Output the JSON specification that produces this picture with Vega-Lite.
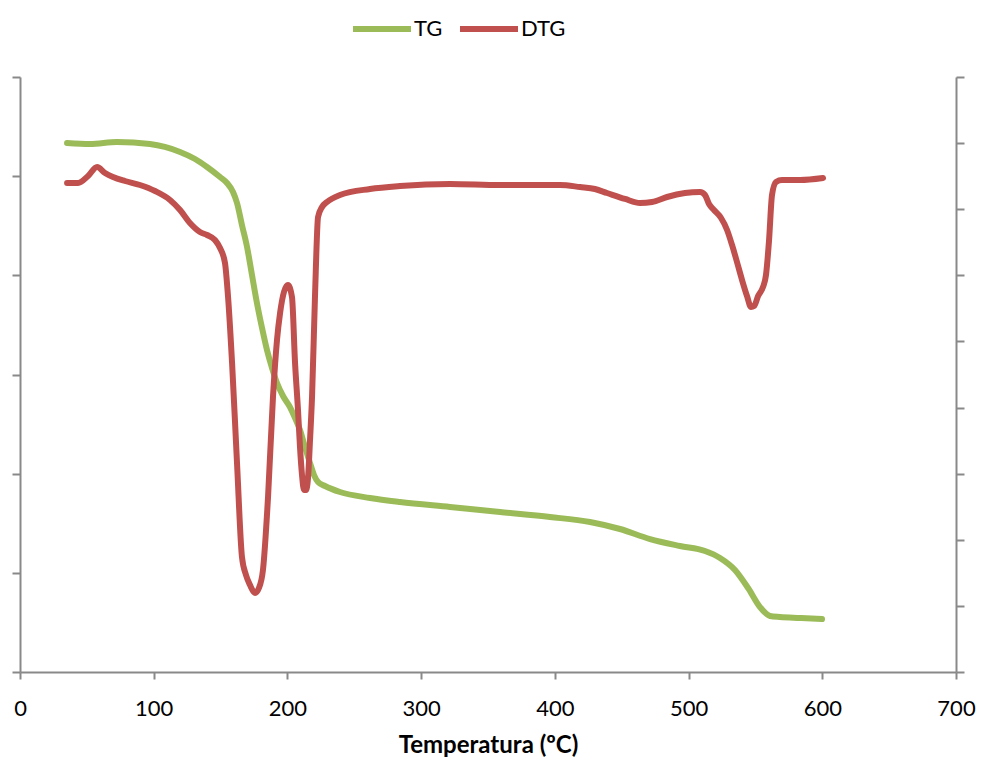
{
  "$schema": "https://vega.github.io/schema/vega-lite/v6.json",
  "width": 936,
  "height": 595,
  "autosize": {"type": "none"},
  "padding": {"left": 20, "top": 77, "right": 25, "bottom": 88},
  "background": "white",
  "config": {
    "view": {"stroke": null},
    "font": "Lato",
    "axis": {"domainColor": "#898989", "tickColor": "#898989", "domainWidth": 2, "tickWidth": 2, "grid": false, "labelFont": "Lato", "titleFont": "Lato"}
  },
  "data": {
    "values": [
      {"series": "TG", "T": 35.2, "v": 5.334},
      {"series": "TG", "T": 52.4, "v": 5.324},
      {"series": "TG", "T": 72.5, "v": 5.344},
      {"series": "TG", "T": 97.2, "v": 5.324},
      {"series": "TG", "T": 119.7, "v": 5.244},
      {"series": "TG", "T": 130.9, "v": 5.173},
      {"series": "TG", "T": 139.9, "v": 5.092},
      {"series": "TG", "T": 149.6, "v": 4.991},
      {"series": "TG", "T": 154.8, "v": 4.931},
      {"series": "TG", "T": 159.3, "v": 4.84},
      {"series": "TG", "T": 162.3, "v": 4.729},
      {"series": "TG", "T": 166.0, "v": 4.507},
      {"series": "TG", "T": 169.8, "v": 4.286},
      {"series": "TG", "T": 173.5, "v": 4.003},
      {"series": "TG", "T": 177.2, "v": 3.721},
      {"series": "TG", "T": 181.0, "v": 3.469},
      {"series": "TG", "T": 184.7, "v": 3.247},
      {"series": "TG", "T": 188.5, "v": 3.065},
      {"series": "TG", "T": 192.2, "v": 2.914},
      {"series": "TG", "T": 196.7, "v": 2.783},
      {"series": "TG", "T": 201.9, "v": 2.672},
      {"series": "TG", "T": 205.7, "v": 2.561},
      {"series": "TG", "T": 209.4, "v": 2.44},
      {"series": "TG", "T": 213.1, "v": 2.269},
      {"series": "TG", "T": 216.9, "v": 2.107},
      {"series": "TG", "T": 219.9, "v": 1.986},
      {"series": "TG", "T": 222.9, "v": 1.916},
      {"series": "TG", "T": 228.1, "v": 1.876},
      {"series": "TG", "T": 239.3, "v": 1.815},
      {"series": "TG", "T": 261.8, "v": 1.755},
      {"series": "TG", "T": 284.2, "v": 1.714},
      {"series": "TG", "T": 321.6, "v": 1.664},
      {"series": "TG", "T": 359.0, "v": 1.613},
      {"series": "TG", "T": 396.4, "v": 1.563},
      {"series": "TG", "T": 426.3, "v": 1.513},
      {"series": "TG", "T": 448.7, "v": 1.442},
      {"series": "TG", "T": 471.2, "v": 1.341},
      {"series": "TG", "T": 493.6, "v": 1.271},
      {"series": "TG", "T": 512.3, "v": 1.22},
      {"series": "TG", "T": 523.5, "v": 1.15},
      {"series": "TG", "T": 534.7, "v": 1.029},
      {"series": "TG", "T": 544.5, "v": 0.847},
      {"series": "TG", "T": 553.4, "v": 0.655},
      {"series": "TG", "T": 560.9, "v": 0.565},
      {"series": "TG", "T": 568.4, "v": 0.555},
      {"series": "TG", "T": 583.4, "v": 0.545},
      {"series": "TG", "T": 599.8, "v": 0.534},
      {"series": "DTG", "T": 35.2, "v": 7.397},
      {"series": "DTG", "T": 43.4, "v": 7.397},
      {"series": "DTG", "T": 50.9, "v": 7.503},
      {"series": "DTG", "T": 57.6, "v": 7.639},
      {"series": "DTG", "T": 63.6, "v": 7.548},
      {"series": "DTG", "T": 69.6, "v": 7.488},
      {"series": "DTG", "T": 78.5, "v": 7.427},
      {"series": "DTG", "T": 89.7, "v": 7.366},
      {"series": "DTG", "T": 101.0, "v": 7.276},
      {"series": "DTG", "T": 112.2, "v": 7.14},
      {"series": "DTG", "T": 119.7, "v": 6.988},
      {"series": "DTG", "T": 127.1, "v": 6.792},
      {"series": "DTG", "T": 134.6, "v": 6.656},
      {"series": "DTG", "T": 139.9, "v": 6.61},
      {"series": "DTG", "T": 145.8, "v": 6.535},
      {"series": "DTG", "T": 149.6, "v": 6.414},
      {"series": "DTG", "T": 153.3, "v": 6.187},
      {"series": "DTG", "T": 155.6, "v": 5.672},
      {"series": "DTG", "T": 158.6, "v": 4.674},
      {"series": "DTG", "T": 162.3, "v": 3.161},
      {"series": "DTG", "T": 166.0, "v": 1.74},
      {"series": "DTG", "T": 169.0, "v": 1.467},
      {"series": "DTG", "T": 172.0, "v": 1.316},
      {"series": "DTG", "T": 175.8, "v": 1.195},
      {"series": "DTG", "T": 178.7, "v": 1.271},
      {"series": "DTG", "T": 181.7, "v": 1.543},
      {"series": "DTG", "T": 185.5, "v": 2.647},
      {"series": "DTG", "T": 189.2, "v": 4.16},
      {"series": "DTG", "T": 192.2, "v": 5.022},
      {"series": "DTG", "T": 194.5, "v": 5.43},
      {"series": "DTG", "T": 197.4, "v": 5.748},
      {"series": "DTG", "T": 200.4, "v": 5.854},
      {"series": "DTG", "T": 203.4, "v": 5.672},
      {"series": "DTG", "T": 205.7, "v": 4.674},
      {"series": "DTG", "T": 207.9, "v": 3.963},
      {"series": "DTG", "T": 209.4, "v": 3.403},
      {"series": "DTG", "T": 210.9, "v": 2.98},
      {"series": "DTG", "T": 212.4, "v": 2.753},
      {"series": "DTG", "T": 213.9, "v": 2.753},
      {"series": "DTG", "T": 215.4, "v": 2.935},
      {"series": "DTG", "T": 216.9, "v": 3.509},
      {"series": "DTG", "T": 218.4, "v": 4.16},
      {"series": "DTG", "T": 220.6, "v": 5.672},
      {"series": "DTG", "T": 222.9, "v": 6.882},
      {"series": "DTG", "T": 225.9, "v": 7.034},
      {"series": "DTG", "T": 229.6, "v": 7.109},
      {"series": "DTG", "T": 239.3, "v": 7.215},
      {"series": "DTG", "T": 261.8, "v": 7.306},
      {"series": "DTG", "T": 284.2, "v": 7.351},
      {"series": "DTG", "T": 321.6, "v": 7.382},
      {"series": "DTG", "T": 359.0, "v": 7.366},
      {"series": "DTG", "T": 403.9, "v": 7.366},
      {"series": "DTG", "T": 418.8, "v": 7.336},
      {"series": "DTG", "T": 430.0, "v": 7.306},
      {"series": "DTG", "T": 439.0, "v": 7.245},
      {"series": "DTG", "T": 452.5, "v": 7.155},
      {"series": "DTG", "T": 463.7, "v": 7.094},
      {"series": "DTG", "T": 472.7, "v": 7.109},
      {"series": "DTG", "T": 483.9, "v": 7.185},
      {"series": "DTG", "T": 497.3, "v": 7.245},
      {"series": "DTG", "T": 508.6, "v": 7.261},
      {"series": "DTG", "T": 512.3, "v": 7.215},
      {"series": "DTG", "T": 515.3, "v": 7.079},
      {"series": "DTG", "T": 519.0, "v": 6.988},
      {"series": "DTG", "T": 524.3, "v": 6.867},
      {"series": "DTG", "T": 528.8, "v": 6.686},
      {"series": "DTG", "T": 532.5, "v": 6.459},
      {"series": "DTG", "T": 536.2, "v": 6.202},
      {"series": "DTG", "T": 540.0, "v": 5.929},
      {"series": "DTG", "T": 543.7, "v": 5.687},
      {"series": "DTG", "T": 546.7, "v": 5.521},
      {"series": "DTG", "T": 549.0, "v": 5.536},
      {"series": "DTG", "T": 552.0, "v": 5.687},
      {"series": "DTG", "T": 555.7, "v": 5.824},
      {"series": "DTG", "T": 557.9, "v": 6.005},
      {"series": "DTG", "T": 560.2, "v": 6.535},
      {"series": "DTG", "T": 562.4, "v": 7.215},
      {"series": "DTG", "T": 565.4, "v": 7.412},
      {"series": "DTG", "T": 569.9, "v": 7.442},
      {"series": "DTG", "T": 583.4, "v": 7.442},
      {"series": "DTG", "T": 600.6, "v": 7.472}
    ]
  },
  "encoding": {
    "x": {
      "field": "T", "type": "quantitative",
      "scale": {"domain": [0, 700], "nice": false, "zero": false},
      "axis": {
        "values": [0, 100, 200, 300, 400, 500, 600, 700],
        "title": "Temperatura (ºC)",
        "titleFontSize": 24, "titleFontWeight": "bold", "titleColor": "#000000", "titlePadding": 14,
        "labelFontSize": 22, "labelColor": "#000000", "labelPadding": 19, "tickSize": 7,
        "labelFlush": false
      }
    },
    "color": {
      "field": "series", "type": "nominal",
      "scale": {"domain": ["TG", "DTG"], "range": ["#9BBB59", "#C0504D"]},
      "legend": {
        "title": null, "orient": "none", "direction": "horizontal",
        "legendX": 330, "legendY": -80,
        "symbolType": "stroke", "symbolSize": 3364, "symbolStrokeWidth": 6,
        "labelFontSize": 22, "labelColor": "#000000", "labelFont": "Lato",
        "columnPadding": 5, "labelOffset": 0
      }
    }
  },
  "layer": [
    {
      "transform": [{"filter": "datum.series === 'TG'"}],
      "mark": {"type": "line", "strokeWidth": 6, "strokeCap": "round", "strokeJoin": "round", "interpolate": "monotone"},
      "encoding": {
        "y": {
          "field": "v", "type": "quantitative",
          "scale": {"domain": [0, 6], "nice": false, "zero": false},
          "axis": {"orient": "left", "title": null, "labels": false, "values": [0, 1, 2, 3, 4, 5, 6], "tickSize": 8}
        }
      }
    },
    {
      "transform": [{"filter": "datum.series === 'DTG'"}],
      "mark": {"type": "line", "strokeWidth": 6, "strokeCap": "round", "strokeJoin": "round", "interpolate": "monotone"},
      "encoding": {
        "y": {
          "field": "v", "type": "quantitative",
          "scale": {"domain": [0, 9], "nice": false, "zero": false},
          "axis": {"orient": "right", "title": null, "labels": false, "values": [0, 1, 2, 3, 4, 5, 6, 7, 8, 9], "tickSize": 8}
        }
      }
    }
  ],
  "resolve": {"scale": {"y": "independent"}}
}
